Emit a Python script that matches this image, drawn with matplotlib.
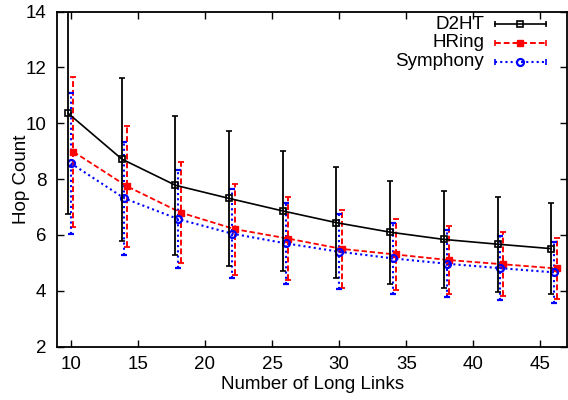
import matplotlib
matplotlib.use("Agg")
import matplotlib.pyplot as plt
import numpy as np

plt.rcParams['font.family'] = ['Liberation Sans', 'DejaVu Sans']

links = [10, 14, 18, 22, 26, 30, 34, 38, 42, 46]

d2ht_mean = [10.36, 8.72, 7.78, 7.31, 6.86, 6.44, 6.10, 5.84, 5.67, 5.51]
d2ht_err = [3.62, 2.92, 2.50, 2.41, 2.16, 1.99, 1.84, 1.74, 1.70, 1.62]

hring_mean = [8.98, 7.74, 6.80, 6.21, 5.87, 5.50, 5.30, 5.10, 4.95, 4.80]
hring_err = [2.68, 2.18, 1.82, 1.63, 1.49, 1.40, 1.27, 1.21, 1.14, 1.10]

symph_mean = [8.57, 7.31, 6.57, 6.05, 5.70, 5.40, 5.16, 4.97, 4.81, 4.66]
symph_err = [2.52, 2.03, 1.77, 1.58, 1.45, 1.35, 1.28, 1.21, 1.15, 1.10]

series_names = ["D2HT", "HRing", "Symphony"]
x_shift = [-0.2, 0.2, 0.0]

FS = 13.5

fig = plt.figure(figsize=(5.68, 4.0), dpi=100)
ax = fig.add_axes([0.101, 0.1335, 0.8978, 0.8373])

x = np.array(links, dtype=float)

# D2HT
ax.errorbar(x + x_shift[0], d2ht_mean, yerr=d2ht_err, color='black',
            linestyle='-', linewidth=1.2, marker='s', markersize=5.0,
            markerfacecolor='none', markeredgecolor='black', markeredgewidth=1.2,
            elinewidth=1.3, capsize=2.2, capthick=1.3, zorder=3)

# HRing
eb2 = ax.errorbar(x + x_shift[1], hring_mean, yerr=hring_err, color='#ff0000',
                  linestyle=(0, (3, 1.5)), linewidth=1.3, marker='s', markersize=5.0,
                  markerfacecolor='#ff0000', markeredgecolor='#ff0000',
                  elinewidth=1.4, capsize=2.0, capthick=1.3, zorder=2)
for l in eb2[2]:
    l.set_linestyle((0, (3, 1.5)))

# Symphony
eb3 = ax.errorbar(x + x_shift[2], symph_mean, yerr=symph_err, color='#0000ff',
                  linestyle=(0, (1, 1.5)), linewidth=1.5, marker='o', markersize=5.0,
                  markerfacecolor='none', markeredgecolor='#0000ff', markeredgewidth=1.6,
                  elinewidth=1.5, capsize=2.0, capthick=1.3, zorder=2)
for l in eb3[2]:
    l.set_linestyle((0, (1, 1.5)))

ax.set_xlim(9, 47)
ax.set_ylim(2, 14)
ax.set_xticks([10, 15, 20, 25, 30, 35, 40, 45])
ax.set_yticks([2, 4, 6, 8, 10, 12, 14])
ax.tick_params(direction='in', top=True, right=True, length=5, width=1.0,
               labelsize=FS)
ax.tick_params(axis='x', pad=7)
ax.tick_params(axis='y', pad=8)
for s in ax.spines.values():
    s.set_linewidth(1.3)

ax.set_xlabel("Number of Long Links", fontsize=FS, labelpad=2)
ax.set_ylabel("Hop Count", fontsize=FS, labelpad=-3)

# legend (gnuplot style, drawn in axes coordinates)
styles = [
    dict(color='black', ls='-', lw=1.2, marker='s', mfc='none', mec='black', mew=1.2),
    dict(color='#ff0000', ls=(0, (3, 1.5)), lw=1.4, marker='s', mfc='#ff0000', mec='#ff0000', mew=1.0),
    dict(color='#0000ff', ls=(0, (1, 1.5)), lw=1.5, marker='o', mfc='none', mec='#0000ff', mew=1.6),
]
trans = ax.transAxes
def ax_x(px):
    return (px - 57.3) / (567.3 - 57.3)
def ax_y(py):
    return (346.6 - py) / (346.6 - 11.7)
rows_py = [24.5, 43.0, 61.7]
for name, st, py in zip(series_names, styles, rows_py):
    yy = ax_y(py)
    x0, x1, xm = ax_x(495), ax_x(545.7), ax_x(520)
    ax.plot([x0, x1], [yy, yy], transform=trans, color=st['color'], ls=st['ls'],
            lw=st['lw'], clip_on=False, zorder=5)
    ax.plot([x0, x1], [yy, yy], transform=trans, color=st['color'], ls='none',
            marker='|', markersize=5, mew=1.2, clip_on=False, zorder=5)
    ax.plot([xm], [yy], transform=trans, ls='none', marker=st['marker'],
            markersize=5.0, mfc=st['mfc'], mec=st['mec'], mew=st['mew'],
            clip_on=False, zorder=6)
    ax.text(ax_x(484), yy, name, transform=trans, ha='right', va='center',
            fontsize=FS)

fig.savefig("out.png", dpi=100)
